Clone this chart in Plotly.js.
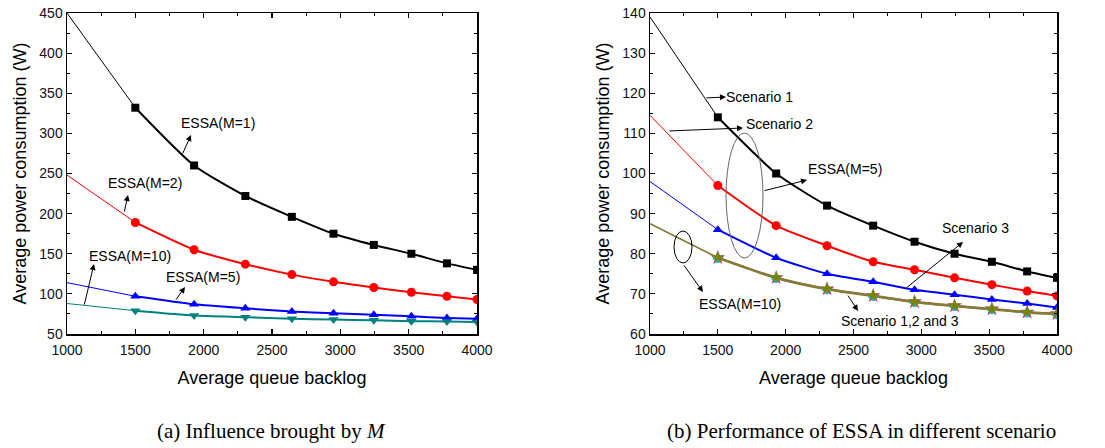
<!DOCTYPE html>
<html><head><meta charset="utf-8">
<script src="https://cdn.plot.ly/plotly-3.0.1.min.js"></script>
<style>html,body{margin:0;padding:0;background:#fff}#chart{width:1105px;height:448px}</style>
</head><body><div id="chart"></div>
<script>
// ---- data ----
const backlog = [1000, 1500, 1930, 2305, 2645, 2950, 3245, 3520, 3780, 4000];
// (a) influence of M
const essaM1  = [450, 332, 260, 222, 196, 175, 161, 150, 138, 130];
const essaM2  = [248, 189, 155, 137, 124, 115, 108, 102, 97, 93];
const essaM5  = [114, 97, 87, 82, 78, 76, 74, 72, 70, 69];
const essaM10 = [88, 79, 73, 71, 69, 68, 67, 66, 65.5, 65];
// (b) different scenarios
const scen1M5  = [139, 114, 100, 92, 87, 83, 80, 78, 75.6, 74];
const scen2M5  = [114.5, 97, 87, 82, 78, 76, 74, 72.3, 70.7, 69.5];
const scen3M5  = [98, 86, 79, 75, 73, 71, 69.8, 68.6, 67.6, 66.6];
const scen1M10 = [87.5, 79, 74, 71.2, 69.5, 68, 67, 66.2, 65.4, 65];
const scen2M10 = [87.4, 78.9, 73.9, 71.1, 69.4, 67.9, 66.9, 66.1, 65.3, 64.9];
const scen3M10 = [87.6, 79.1, 74.1, 71.3, 69.6, 68.1, 67.1, 66.3, 65.5, 65.1];
const xTitle = 'Average queue backlog';
const yTitle = 'Average power consumption (W)';

const W = 1105, H = 448;
const P = px => px / W, Q = py => 1 - py / H;

const traces = [];
function series(xs, ys, color, symbol, size, xa, ya, lineColor, mcolor) {
  lineColor = lineColor || color;
  traces.push({x: xs.slice(0, 2), y: ys.slice(0, 2), xaxis: xa, yaxis: ya, mode: 'lines',
    line: {color: lineColor, width: 1}, showlegend: false, hoverinfo: 'skip'});
  traces.push({x: xs.slice(1), y: ys.slice(1), xaxis: xa, yaxis: ya, mode: 'lines+markers',
    line: {color: lineColor, width: 2, shape: 'spline', smoothing: 0.6},
    marker: {symbol: symbol, size: size, color: mcolor || color}, showlegend: false});
}
series(backlog, essaM1, '#000000', 'square', 8, 'x', 'y');
series(backlog, essaM2, '#ff0000', 'circle', 9, 'x', 'y');
series(backlog, essaM5, '#0000ff', 'triangle-up', 9, 'x', 'y');
series(backlog, essaM10, '#008080', 'triangle-down', 9, 'x', 'y');

series(backlog, scen1M5, '#000000', 'square', 8, 'x2', 'y2');
series(backlog, scen2M5, '#ff0000', 'circle', 9, 'x2', 'y2');
series(backlog, scen3M5, '#0000ff', 'triangle-up', 9, 'x2', 'y2');
series(backlog, scen1M10, '#ff00ff', 'star', 11, 'x2', 'y2', '#8a7a3a');
series(backlog, scen2M10, '#00c0c0', 'cross', 8, 'x2', 'y2', '#8a7a3a');
series(backlog, scen3M10, '#808000', 'star', 10, 'x2', 'y2', '#8a7a3a');

const axBase = {
  showline: true, linecolor: '#000', linewidth: 1.5, mirror: 'allticks',
  ticks: 'inside', ticklen: 5, tickwidth: 1.2, tickcolor: '#000',
  showgrid: false, zeroline: false,
  tickfont: {family: 'Liberation Sans, Arial, sans-serif', size: 14, color: '#111'},
  minor: {ticks: 'inside', ticklen: 3, tickwidth: 1, tickcolor: '#000', showgrid: false}
};
const titleFont = {family: 'Liberation Sans, Arial, sans-serif', size: 18, color: '#000'};

const layout = {
  width: W, height: H, margin: {l: 0, r: 0, t: 0, b: 0},
  paper_bgcolor: '#fff', plot_bgcolor: '#fff', showlegend: false,
  xaxis: Object.assign({}, axBase, {domain: [P(67), P(477)], anchor: 'y', range: [1000, 4000],
    dtick: 500, tick0: 1000, ticklabelstandoff: 3, minor: Object.assign({}, axBase.minor, {dtick: 250}),
    title: {text: xTitle, font: titleFont, standoff: 14}}),
  yaxis: Object.assign({}, axBase, {domain: [Q(334), Q(13)], anchor: 'x', range: [50, 450],
    dtick: 50, tick0: 50, minor: Object.assign({}, axBase.minor, {dtick: 25}),
    title: {text: yTitle, font: titleFont, standoff: 8}}),
  xaxis2: Object.assign({}, axBase, {domain: [P(650), P(1057)], anchor: 'y2', range: [1000, 4000],
    dtick: 500, tick0: 1000, ticklabelstandoff: 3, minor: Object.assign({}, axBase.minor, {dtick: 250}),
    title: {text: xTitle, font: titleFont, standoff: 14}}),
  yaxis2: Object.assign({}, axBase, {domain: [Q(334), Q(13)], anchor: 'x2', range: [60, 140],
    dtick: 10, tick0: 60, minor: Object.assign({}, axBase.minor, {dtick: 5}),
    title: {text: yTitle, font: titleFont, standoff: 8}}),
  annotations: [],
  shapes: []
};

const aFont = {family: 'Liberation Sans, Arial, sans-serif', size: 14, color: '#000'};
function label(text, cx, cy) {
  layout.annotations.push({text: text, xref: 'paper', yref: 'paper', x: P(cx), y: Q(cy),
    xanchor: 'center', yanchor: 'middle', showarrow: false, font: aFont});
}
function arrow(tx, ty, hx, hy) {
  layout.annotations.push({text: '', xref: 'paper', yref: 'paper', x: P(hx), y: Q(hy),
    ax: tx - hx, ay: ty - hy, showarrow: true, arrowhead: 2, arrowsize: 1.2, arrowwidth: 1,
    arrowcolor: '#000'});
}
// (a)
label('ESSA(M=1)', 218, 123);  arrow(182, 155, 191, 135);
label('ESSA(M=2)', 145, 183);  arrow(124, 213, 128, 195);
label('ESSA(M=10)', 130, 256); arrow(84, 306, 94, 264);
label('ESSA(M=5)', 203, 277);  arrow(175, 301, 185, 287);
// (b)
label('Scenario 1', 759, 97);   arrow(705, 98, 726, 97);
label('Scenario 2', 779, 124);  arrow(668, 131, 743, 128);
label('ESSA(M=5)', 845, 169);   arrow(763, 191, 807, 180);
label('ESSA(M=10)', 740, 304);  arrow(683, 264, 703, 292);
label('Scenario 3', 975, 228);  arrow(905, 289, 963, 242);
label('Scenario 1,2 and 3', 900, 321); arrow(847, 294, 858, 311);

layout.shapes.push({type: 'circle', xref: 'paper', yref: 'paper',
  x0: P(726), x1: P(763), y0: Q(258), y1: Q(133), line: {color: '#666', width: 1}});
layout.shapes.push({type: 'circle', xref: 'paper', yref: 'paper',
  x0: P(674), x1: P(692), y0: Q(263), y1: Q(231), line: {color: '#000', width: 1}});

// captions
const capFont = {family: 'Liberation Serif, Times New Roman, serif', size: 21, color: '#000'};
layout.annotations.push({text: '(a) Influence brought by <i>M</i>', xref: 'paper', yref: 'paper',
  x: P(271), y: Q(431), xanchor: 'center', yanchor: 'middle', showarrow: false, font: capFont});
layout.annotations.push({text: '(b) Performance of ESSA in different scenario', xref: 'paper', yref: 'paper',
  x: P(861), y: Q(431), xanchor: 'center', yanchor: 'middle', showarrow: false, font: capFont});

Plotly.newPlot('chart', traces, layout, {displayModeBar: false, staticPlot: true});
</script></body></html>
